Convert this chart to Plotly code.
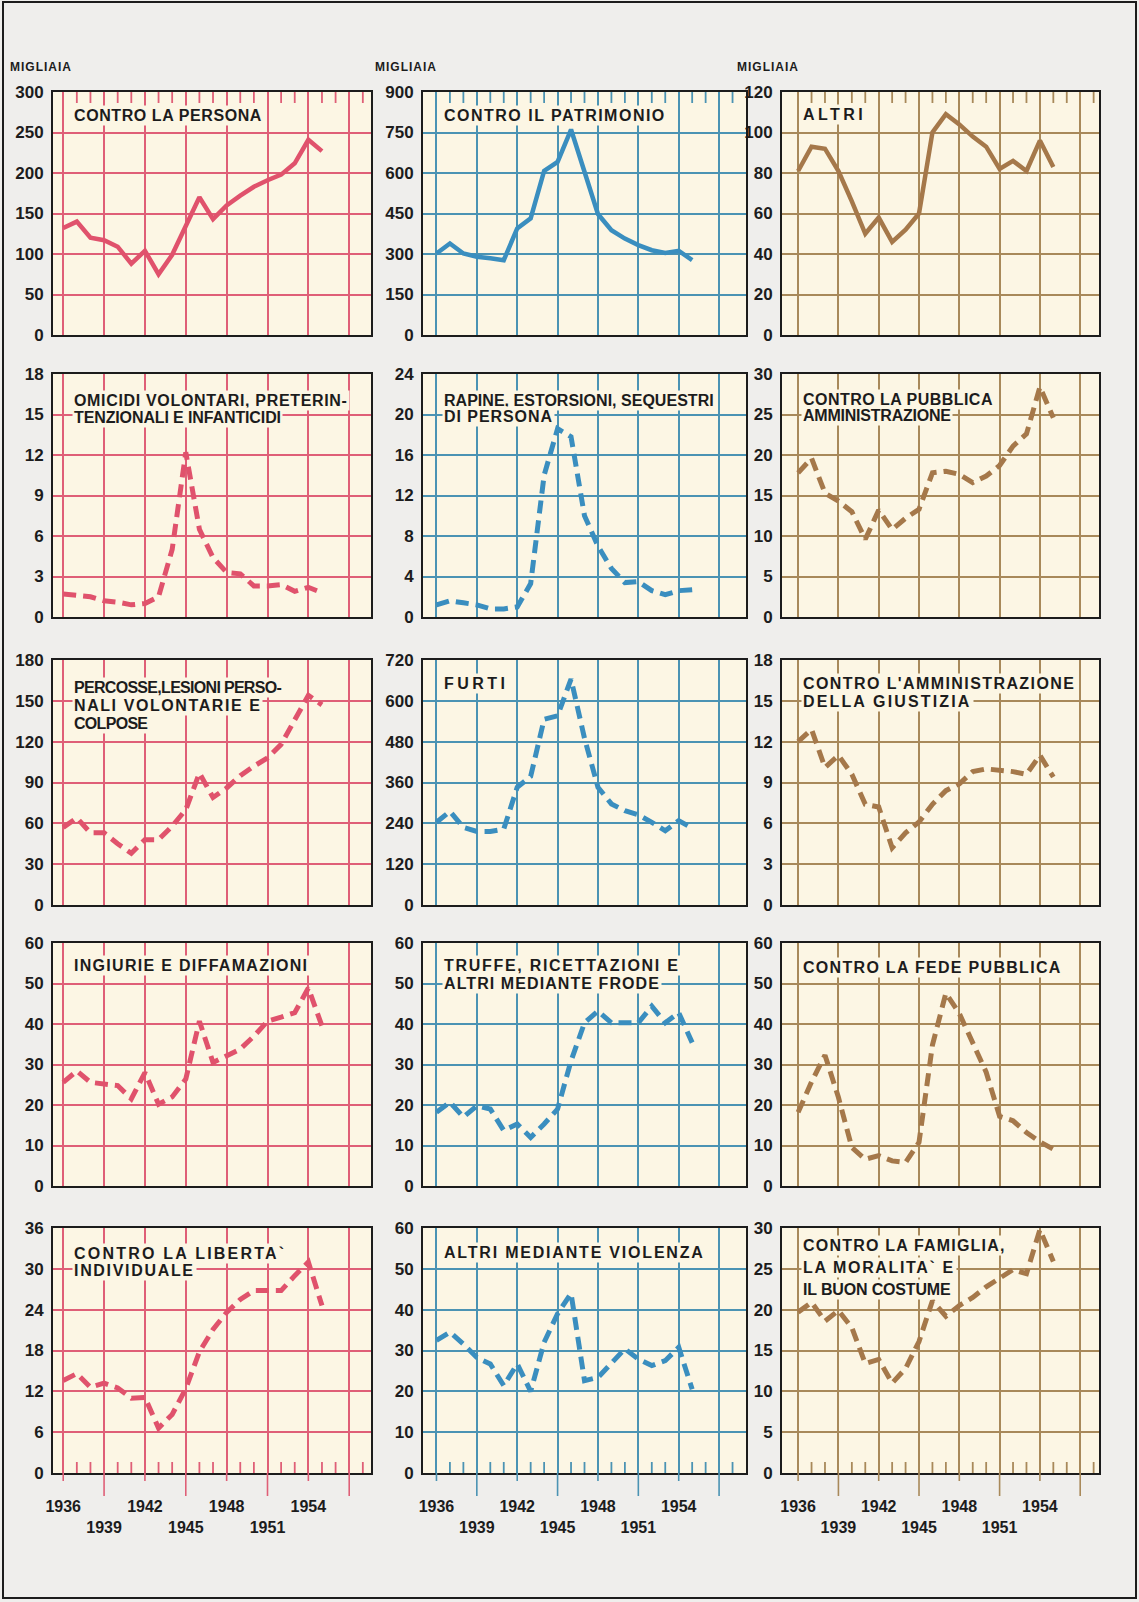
import plotly.graph_objects as go

# page (browser) size; the page body margin is removed after plotting
W, H = 1139, 1602

# ---------------- data (thousands) ----------------
YEARS = list(range(1936, 1956))

persona    = [132, 140, 120, 117, 109, 88, 104, 75, 99, 135, 170, 143, 160, 172, 183, 191, 198, 212, 241, 227]
patrimonio = [302, 339, 302, 290, 284, 277, 395, 432, 608, 641, 761, 598, 448, 388, 357, 333, 314, 304, 312, 277]
altri      = [81, 93, 92, 81, 66, 50, 58, 46, 52, 60, 100, 109, 104, 98, 93, 82, 86, 81, 96, 83]

omicidi    = [1.7, 1.6, 1.5, 1.2, 1.1, 0.9, 1.0, 1.5, 5.0, 12.2, 6.5, 4.4, 3.3, 3.2, 2.3, 2.3, 2.4, 1.9, 2.2, 1.8]
rapine     = [1.2, 1.6, 1.4, 1.2, 0.8, 0.8, 1.0, 3.3, 14.0, 18.6, 17.8, 10.0, 7.0, 4.8, 3.4, 3.5, 2.6, 2.2, 2.6, 2.7]
pubblica   = [17.8, 19.6, 15.3, 14.3, 13.0, 9.6, 13.2, 10.8, 12.2, 13.3, 17.8, 18.0, 17.6, 16.6, 17.4, 18.7, 21.1, 22.6, 28.4, 24.6]

percosse   = [57, 64, 53, 53, 45, 38, 48, 48, 58, 70, 97, 79, 86, 95, 102, 108, 118, 136, 154, 147]
furti      = [243, 275, 228, 216, 216, 223, 346, 378, 546, 556, 664, 490, 346, 297, 277, 265, 243, 218, 248, 226]
giustizia  = [12.0, 12.9, 10.1, 11.0, 9.6, 7.4, 7.2, 4.2, 5.3, 6.1, 7.4, 8.4, 8.9, 9.8, 10.0, 9.9, 9.8, 9.6, 11.0, 9.4]

ingiurie   = [25.6, 28.4, 25.6, 25.3, 24.8, 21.5, 28.0, 20.2, 22.0, 26.4, 40.7, 30.5, 32.1, 33.8, 37.0, 40.7, 41.7, 42.8, 48.9, 39.5]
truffe     = [18.2, 20.7, 17.0, 19.8, 19.0, 13.7, 15.3, 12.0, 15.3, 19.0, 30.9, 40.3, 43.2, 40.3, 40.3, 40.3, 44.4, 40.3, 42.8, 35.4]
fede       = [18.2, 25.7, 32.3, 21.9, 9.5, 6.6, 7.5, 6.2, 5.8, 10.8, 34.8, 47.6, 42.6, 35.6, 28.1, 17.2, 16.1, 13.2, 10.9, 9.1]

liberta    = [13.6, 14.6, 12.6, 13.2, 12.5, 11.0, 11.1, 6.6, 8.6, 12.4, 17.8, 21.1, 23.6, 25.5, 26.8, 26.8, 26.8, 29.0, 31.0, 24.6]
violenza   = [32.5, 34.5, 31.6, 28.3, 26.7, 21.4, 26.7, 20.0, 32.0, 39.0, 44.0, 22.6, 23.4, 26.7, 30.4, 27.9, 26.3, 27.5, 30.8, 20.5]
famiglia   = [19.7, 20.9, 18.6, 19.9, 17.8, 13.4, 13.9, 11.0, 12.8, 16.1, 21.1, 19.2, 20.5, 21.5, 22.8, 23.8, 24.9, 24.4, 29.8, 25.9]

SERIES = [persona, patrimonio, altri,
          omicidi, rapine, pubblica,
          percosse, furti, giustizia,
          ingiurie, truffe, fede,
          liberta, violenza, famiglia]

TITLES = [
    ["CONTRO LA PERSONA"], ["CONTRO IL PATRIMONIO"], ["ALTRI"],
    ["OMICIDI VOLONTARI, PRETERIN-", "TENZIONALI E INFANTICIDI"],
    ["RAPINE, ESTORSIONI, SEQUESTRI", "DI PERSONA"],
    ["CONTRO LA PUBBLICA", "AMMINISTRAZIONE"],
    ["PERCOSSE,LESIONI PERSO-", "NALI VOLONTARIE E", "COLPOSE"],
    ["FURTI"],
    ["CONTRO L'AMMINISTRAZIONE", "DELLA GIUSTIZIA"],
    ["INGIURIE E DIFFAMAZIONI"],
    ["TRUFFE, RICETTAZIONI E", "ALTRI MEDIANTE FRODE"],
    ["CONTRO LA FEDE PUBBLICA"],
    ["CONTRO LA LIBERTA`", "INDIVIDUALE"],
    ["ALTRI MEDIANTE VIOLENZA"],
    ["CONTRO LA FAMIGLIA,", "LA MORALITA` E", "IL BUON COSTUME"],
]

Y_MAX  = [300, 900, 120, 18, 24, 30, 180, 720, 18, 60, 60, 60, 36, 60, 30]
Y_STEP = [50, 150, 20, 3, 4, 5, 30, 120, 3, 10, 10, 10, 6, 10, 5]

GRID_YEARS = list(range(1936, 1958, 3))          # 1936 ... 1957
TICK_YEARS = list(range(1936, 1959))             # yearly minor ticks
X_LABELS = ["1936", "<br>1939", "1942", "<br>1945", "1948", "<br>1951", "1954", ""]
UNIT_LABEL = "MIGLIAIA"

# ---------------- styling / geometry (page pixels) ----------------
# printed width of every title line (hand lettering, irregular spacing)
TITLE_WIDTH = [
    [188], [223], [61],
    [274, 208], [270, 108], [190, 148],
    [188, 187, 72], [61], [271, 167],
    [234], [235, 216], [258],
    [212, 119], [260], [203, 152, 148],
]
TITLE_TOP = [23, 23, 22, 26, 26, 25, 27, 23, 23, 22, 22, 24, 25, 24, 17]
TITLE_PITCH = [17, 17, 17, 17, 16, 16, 18, 17, 18, 17, 18, 17, 17, 17, 22]
TITLE_SIZE = 16

COL_X = [(53, 371), (423, 746), (782, 1099)]
ROW_Y = [(92, 335), (374, 617), (660, 905), (943, 1186), (1228, 1473)]
COL_XRANGE = [(1935.25, 1958.6), (1935.0, 1959.0), (1934.8, 1958.4)]

LINE_COL = ["#e0526c", "#3a8ebf", "#a5784a"]
GRID_COL = ["#df5f77", "#4b93b3", "#a8895a"]
PANEL_BG = "#fcf6e4"
PAGE_BG = "#efeeec"
INK = "#1c1c1c"
FONT = "Liberation Sans, Arial, sans-serif"

# Liberation Sans Bold advance widths (em) used to fit the letter spacing
CHAR_EM = {c: 0.722 for c in "ABCDHKNRUX"}
CHAR_EM.update({"E": 0.667, "F": 0.611, "G": 0.778, "I": 0.278, "J": 0.556,
                "L": 0.611, "M": 0.833, "O": 0.778, "P": 0.667, "Q": 0.778,
                "S": 0.667, "T": 0.611, "V": 0.667, "W": 0.944, "Y": 0.667,
                "Z": 0.611, " ": 0.278, ",": 0.278, "-": 0.333, "'": 0.238,
                "`": 0.333})


def spacing_for(text, width, size):
    natural = sum(CHAR_EM.get(ch, 0.7) for ch in text) * size
    return max((width - natural) / max(len(text) - 1, 1), -0.7)


def px_x(p):
    return p / W


def px_y(p):
    return 1 - p / H


fig = go.Figure()
shapes = []
annotations = []

for k, ys in enumerate(SERIES):
    r, c = divmod(k, 3)
    n = k + 1
    xa = "x" if n == 1 else f"x{n}"
    ya = "y" if n == 1 else f"y{n}"
    xkey = "xaxis" if n == 1 else f"xaxis{n}"
    ykey = "yaxis" if n == 1 else f"yaxis{n}"
    x0, x1 = COL_X[c]
    y0, y1 = ROW_Y[r]

    dashed = r > 0
    fig.add_trace(go.Scatter(
        x=YEARS, y=ys, mode="lines", xaxis=xa, yaxis=ya,
        line=dict(color=LINE_COL[c], width=5 if dashed else 4.5,
                  dash="13px,7px" if dashed else "solid"),
        hoverinfo="x+y", showlegend=False))

    bottom = r == 4
    fig.layout[xkey] = dict(
        domain=[px_x(x0), px_x(x1)], anchor=ya, range=list(COL_XRANGE[c]),
        tickmode="array", tickvals=GRID_YEARS,
        ticktext=X_LABELS if bottom else [""] * len(GRID_YEARS),
        showticklabels=bottom, ticks="", automargin=False,
        showgrid=True, gridcolor=GRID_COL[c], gridwidth=1.6,
        zeroline=False, showline=True, linecolor=INK, linewidth=2, mirror=True,
        tickfont=dict(family=FONT, size=16, color=INK, weight="bold"),
        ticklabelstandoff=18, fixedrange=True)
    yt = list(range(0, Y_MAX[k] + 1, Y_STEP[k]))
    fig.layout[ykey] = dict(
        domain=[px_y(y1), px_y(y0)], anchor=xa, range=[0, Y_MAX[k]],
        tickmode="array", tickvals=yt, ticks="", automargin=False,
        showgrid=True, gridcolor=GRID_COL[c], gridwidth=1.6,
        zeroline=False, showline=True, linecolor=INK, linewidth=2, mirror=True,
        tickfont=dict(family=FONT, size=17, color=INK, weight="bold"),
        ticklabelstandoff=4, fixedrange=True)

    # panel title: one box per line, letter spacing fitted to the print
    for i, (line, wdt) in enumerate(zip(TITLES[k], TITLE_WIDTH[k])):
        sp = spacing_for(line, wdt, TITLE_SIZE)
        annotations.append(dict(
            xref=f"{xa} domain", yref=f"{ya} domain",
            x=19 / (x1 - x0),
            y=1 - (TITLE_TOP[k] + i * TITLE_PITCH[k]) / (y1 - y0),
            xanchor="left", yanchor="middle", align="left", showarrow=False,
            bgcolor=PANEL_BG, borderpad=1,
            text=f'<span style="letter-spacing:{sp:.2f}px">{line}</span>',
            font=dict(family=FONT, size=TITLE_SIZE, color=INK, weight="bold")))

    # yearly minor ticks: inside top on first row, inside bottom on last row
    if r == 0 or bottom:
        for yr in TICK_YEARS:
            if yr in GRID_YEARS:
                continue
            if r == 0:
                ya0, ya1 = px_y(y0), px_y(y0 + 11)
            else:
                ya0, ya1 = px_y(y1), px_y(y1 - 11)
            shapes.append(dict(type="line", xref=xa, yref="paper",
                               x0=yr, x1=yr, y0=ya0, y1=ya1,
                               line=dict(color=GRID_COL[c], width=1.8)))
    # grid lines extending below the bottom row
    if bottom:
        for i, yr in enumerate(GRID_YEARS):
            ext = 8 if i % 2 == 0 else 23
            shapes.append(dict(type="line", xref=xa, yref="paper",
                               x0=yr, x1=yr, y0=px_y(y1), y1=px_y(y1 + ext),
                               line=dict(color=GRID_COL[c], width=1.6)))

# "MIGLIAIA" unit labels
for lx in (8, 373, 735):
    annotations.append(dict(
        xref="paper", yref="paper", x=px_x(lx), y=px_y(67),
        xanchor="left", yanchor="middle", showarrow=False,
        text=f'<span style="letter-spacing:1px">{UNIT_LABEL}</span>',
        font=dict(family=FONT, size=12, color=INK, weight="bold")))

# outer frame
shapes.append(dict(type="rect", xref="paper", yref="paper",
                   x0=px_x(3), x1=px_x(1136), y0=px_y(1598), y1=px_y(2),
                   line=dict(color=INK, width=2), fillcolor="rgba(0,0,0,0)",
                   layer="below"))

fig.update_layout(
    width=W, height=H, margin=dict(l=0, r=0, t=0, b=0, autoexpand=False),
    paper_bgcolor=PAGE_BG, plot_bgcolor=PANEL_BG, showlegend=False,
    font=dict(family=FONT, color=INK),
    shapes=shapes, annotations=annotations)

fig.write_html("out.html", config={"displayModeBar": False},
               post_script="document.body.style.margin='0';")
